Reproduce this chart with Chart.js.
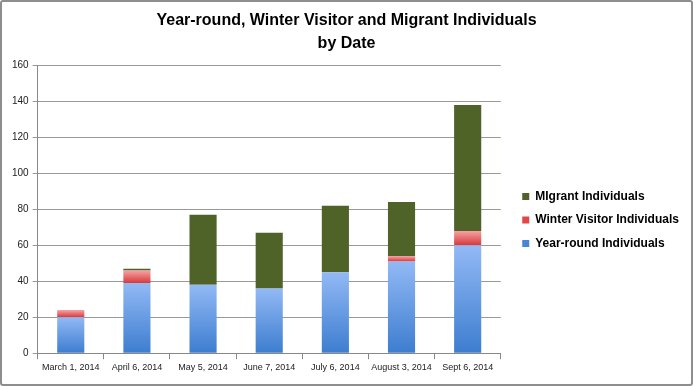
<!DOCTYPE html>
<html>
<head>
<meta charset="utf-8">
<script src="https://cdn.jsdelivr.net/npm/chart.js"></script>
<style>
body { margin: 0; background: #fff; }
#frame { position: absolute; left: 0; top: 0; width: 689px; height: 382px; border: 2px solid #8e8e8e; border-radius: 3px; }
</style>
</head>
<body>
<div id="frame"><canvas id="myChart" width="689" height="382"></canvas></div>
<script>
// Survey dates and counts
var dates = ["March 1, 2014", "April 6, 2014", "May 5, 2014", "June 7, 2014", "July 6, 2014", "August 3, 2014", "Sept 6, 2014"];
var yearRound = [20, 39, 38, 36, 45, 51, 60];
var winterVisitor = [4, 7, 0, 0, 0, 3, 8];
var migrant = [0, 1, 39, 31, 37, 30, 70];

// vertical gradient for each bar segment, light at top
function barGradient(light, dark) {
    return function (ctx) {
        var chart = ctx.chart;
        if (ctx.type !== 'data' || !chart.chartArea) return dark;
        var y = chart.scales.y;
        var i = ctx.dataIndex;
        var base = 0;
        for (var k = 0; k < ctx.datasetIndex; k++) base += chart.data.datasets[k].data[i];
        var top = base + chart.data.datasets[ctx.datasetIndex].data[i];
        var y0 = y.getPixelForValue(top), y1 = y.getPixelForValue(base);
        if (!isFinite(y0) || !isFinite(y1) || y0 === y1) return dark;
        var g = chart.ctx.createLinearGradient(0, y0, 0, y1);
        g.addColorStop(0, light);
        g.addColorStop(1, dark);
        return g;
    };
}

var legendColors = ["#4a86d6", "#e04848", "#4f6228"];

// nudge legend right and down, keep title centred on the whole canvas
var layoutShift = {
    id: "layoutShift",
    afterLayout: function (chart) {
        var l = chart.legend;
        l.left += 10; l.right += 40;
        l.top += 31; l.bottom += 31;
        var t = chart.titleBlock;
        t.left += 10; t.right += 10;
    }
};

new Chart("myChart", {
    type: "bar",
    data: {
        labels: dates,
        datasets: [
            { label: "Year-round Individuals", data: yearRound, backgroundColor: barGradient("#92b9f5", "#3d7dcf") },
            { label: "Winter Visitor Individuals", data: winterVisitor, backgroundColor: barGradient("#f7a3a3", "#d6383c") },
            { label: "MIgrant Individuals", data: migrant, backgroundColor: "#4f6228" }
        ]
    },
    plugins: [layoutShift],
    options: {
        responsive: false,
        animation: false,
        barPercentage: 0.41,
        categoryPercentage: 1,
        layout: { padding: { left: 6, right: 26, top: 0, bottom: 8 } },
        plugins: {
            title: {
                display: true,
                text: ["Year-round, Winter Visitor and Migrant Individuals", "by Date"],
                color: "#000",
                font: { family: "Liberation Sans", size: 16, weight: "bold", lineHeight: 1.45 },
                padding: { top: 7, bottom: 10 }
            },
            legend: {
                position: "right",
                reverse: true,
                labels: {
                    boxWidth: 7,
                    boxHeight: 7,
                    padding: 11.5,
                    color: "#000",
                    font: { family: "Liberation Sans", size: 12, weight: "bold" },
                    generateLabels: function (chart) {
                        return chart.data.datasets.map(function (ds, i) {
                            return { text: ds.label, fillStyle: legendColors[i], strokeStyle: legendColors[i], lineWidth: 0, datasetIndex: i };
                        });
                    }
                }
            },
            tooltip: { enabled: false }
        },
        scales: {
            x: {
                stacked: true,
                grid: { offset: true, drawOnChartArea: false, color: "#888", tickLength: 6 },
                border: { color: "#888" },
                ticks: { color: "#222", font: { family: "Liberation Sans", size: 9 }, padding: 3, maxRotation: 0, autoSkip: false }
            },
            y: {
                stacked: true,
                min: 0,
                max: 160,
                grid: { color: "#999", tickLength: 5 },
                border: { color: "#888" },
                ticks: { stepSize: 20, color: "#222", font: { family: "Liberation Sans", size: 10 }, padding: 4 }
            }
        }
    }
});
</script>
</body>
</html>
